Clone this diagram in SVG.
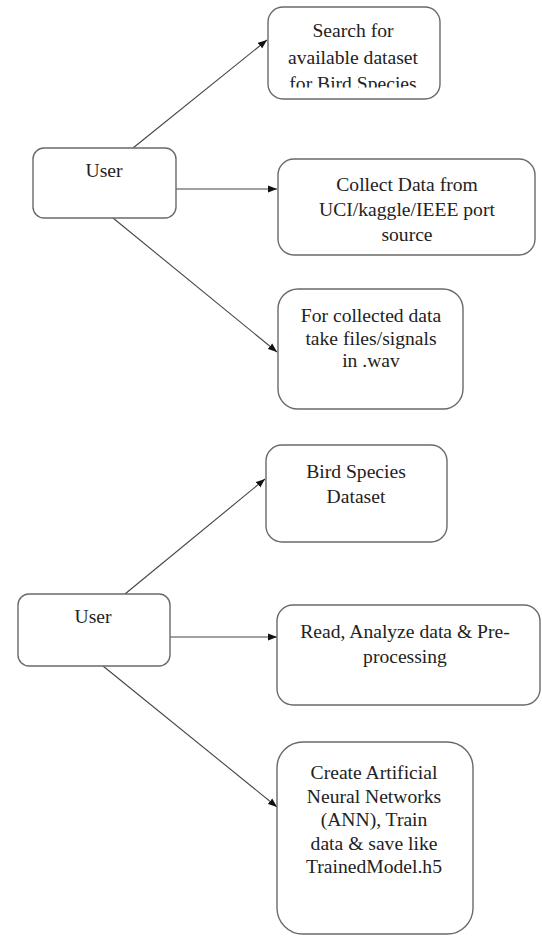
<svg xmlns="http://www.w3.org/2000/svg" width="542" height="936" viewBox="0 0 542 936">
<style>
  .box { fill: #ffffff; stroke: #6a6a6a; stroke-width: 1.4; }
  .lbl { font-family: 'Liberation Serif', 'Times New Roman', Times, 'DejaVu Serif', serif; font-size: 19.6px; fill: #222222; text-anchor: middle; }
  .conn { stroke: #444444; stroke-width: 1.1; fill: none; marker-end: url(#arrow); }
</style>
<defs>
  <marker id="arrow" markerUnits="userSpaceOnUse" markerWidth="10" markerHeight="8" refX="9" refY="4" orient="auto">
    <path d="M0,0.5 L9,4 L0,7.5 Z" fill="#111111"/>
  </marker>
  <clipPath id="clip1">
    <rect x="260" y="0" width="190" height="87.5"/>
  </clipPath>
</defs>
<rect width="542" height="936" fill="#ffffff"/>

<g id="connectors">
  <line class="conn" x1="133" y1="148" x2="267" y2="40"/>
  <line class="conn" x1="176" y1="189" x2="277" y2="189"/>
  <line class="conn" x1="113" y1="218" x2="277" y2="352"/>
  <line class="conn" x1="125" y1="594" x2="265" y2="479"/>
  <line class="conn" x1="170" y1="637" x2="277" y2="637"/>
  <line class="conn" x1="103" y1="666" x2="277" y2="807"/>
</g>

<g id="user1">
  <rect class="box" x="33" y="148" width="143" height="70" rx="11"/>
  <text class="lbl" x="104" y="177">User</text>
</g>

<g id="search">
  <rect class="box" x="268" y="7" width="172" height="92" rx="15"/>
  <text class="lbl" x="353" y="37">Search for</text>
  <text class="lbl" x="353" y="64">available dataset</text>
  <text class="lbl" x="353" y="90" clip-path="url(#clip1)">for Bird Species</text>
</g>

<g id="collect">
  <rect class="box" x="278" y="159" width="257" height="96" rx="16"/>
  <text class="lbl" x="407" y="191">Collect Data from</text>
  <text class="lbl" x="407" y="216">UCI/kaggle/IEEE port</text>
  <text class="lbl" x="407" y="241">source</text>
</g>

<g id="wav">
  <rect class="box" x="278" y="289" width="185" height="120" rx="20"/>
  <text class="lbl" x="371" y="322">For collected data</text>
  <text class="lbl" x="371" y="345">take files/signals</text>
  <text class="lbl" x="371" y="367">in .wav</text>
</g>

<g id="user2">
  <rect class="box" x="18" y="594" width="152" height="72" rx="11"/>
  <text class="lbl" x="93" y="623">User</text>
</g>

<g id="dataset">
  <rect class="box" x="266" y="445" width="181" height="97" rx="16"/>
  <text class="lbl" x="356" y="478">Bird Species</text>
  <text class="lbl" x="356" y="503">Dataset</text>
</g>

<g id="preprocess">
  <rect class="box" x="277" y="605" width="263" height="100" rx="16"/>
  <text class="lbl" x="405" y="638">Read, Analyze data &amp; Pre-</text>
  <text class="lbl" x="405" y="663">processing</text>
</g>

<g id="ann">
  <rect class="box" x="277" y="742" width="196" height="192" rx="26"/>
  <text class="lbl" x="374" y="779">Create Artificial</text>
  <text class="lbl" x="374" y="803">Neural Networks</text>
  <text class="lbl" x="374" y="826">(ANN), Train</text>
  <text class="lbl" x="374" y="850">data &amp; save like</text>
  <text class="lbl" x="374" y="873">TrainedModel.h5</text>
</g>
</svg>
